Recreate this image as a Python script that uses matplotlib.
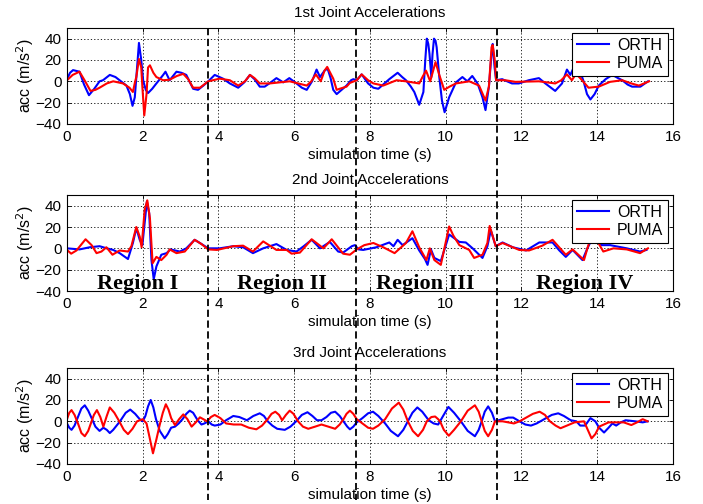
import numpy as np
import matplotlib
matplotlib.use('Agg')
import matplotlib.pyplot as plt
from matplotlib.lines import Line2D
from matplotlib import transforms

plt.rcParams['font.family'] = ['Liberation Sans', 'DejaVu Sans']

# ---- data (time s, acceleration m/s^2) ----
t1_orth = [0.00, 0.08, 0.16, 0.33, 0.45, 0.58, 0.72, 0.86, 0.95, 1.13, 1.28, 1.39, 1.57, 1.66, 1.73, 1.79,
           1.85, 1.90, 1.96, 2.01, 2.08, 2.14, 2.25, 2.36, 2.54, 2.60, 2.71, 2.80, 2.89, 3.02, 3.15, 3.33,
           3.46, 3.60, 3.73, 3.90, 4.12, 4.30, 4.52, 4.68, 4.83, 4.95, 5.09, 5.22, 5.38, 5.53, 5.71, 5.87,
           6.06, 6.20, 6.33, 6.47, 6.59, 6.68, 6.80, 6.88, 6.96, 7.03, 7.12, 7.25, 7.38, 7.50, 7.56, 7.65,
           7.78, 7.95, 8.09, 8.22, 8.38, 8.51, 8.62, 8.73, 8.85, 8.95, 9.08, 9.17, 9.30, 9.41, 9.46, 9.50,
           9.54, 9.57, 9.62, 9.65, 9.69, 9.73, 9.76, 9.83, 9.90, 9.97, 10.09, 10.27, 10.44, 10.57, 10.70,
           10.84, 10.97, 11.05, 11.14, 11.21, 11.24, 11.29, 11.33, 11.49, 11.75, 11.93, 12.19, 12.46, 12.63,
           12.89, 13.07, 13.20, 13.29, 13.38, 13.46, 13.54, 13.64, 13.73, 13.82, 13.93, 14.04, 14.22, 14.40,
           14.55, 14.66, 14.80, 14.92, 15.14, 15.34]
a1_orth = [2, 8, 10.5, 9, -3, -13, -7, 0, 1, 6, 4, 1, -4, -12, -23, -15,
           13, 36, 20, 1, -8, -11, -7, -2, 6, 9, 1, 5, 9, 8, 6, -7,
           -8, -4, 0, 6, 2.5, -2, -6, -1, 6, 2, -5, -5, -1, 3, -1, 3,
           -2, -6, -8, 0, 11, 4, 10, 12, 3, -8, -12, -8, -4, 1, 2, 1,
           6.5, -2, -6, -7, -2, 2, 5, 8, 4, 1, -5, -10, -22, -10, 20, 40,
           35, 26, 4, 25, 40, 38, 32, 4, -18, -29, -15, -1, 4, 0, 5,
           -2, -15, -27, -5, 26, 35, 13, 1, 2, -2, -2, 1, 3, -2,
           -9, -2, 11, 6, 13, 20, 10, 0, -12, -17, -12, -4, 2, 6,
           3, 1, -3, -5, -5, 0]

t1_puma = [0.00, 0.15, 0.33, 0.48, 0.62, 0.75, 0.86, 1.05, 1.22, 1.48, 1.65, 1.74, 1.80, 1.83, 1.90, 1.96,
           1.99, 2.04, 2.10, 2.14, 2.19, 2.28, 2.36, 2.54, 2.71, 2.90, 3.07, 3.20, 3.33, 3.51, 3.73, 4.03,
           4.30, 4.52, 4.70, 4.83, 4.95, 5.09, 5.35, 5.88, 6.33, 6.45, 6.57, 6.70, 6.80, 6.87, 6.95, 7.03,
           7.12, 7.20, 7.38, 7.47, 7.65, 7.78, 7.95, 8.09, 8.35, 8.70, 8.95, 9.30, 9.40, 9.48, 9.59, 9.73,
           9.83, 9.96, 10.10, 10.27, 10.62, 10.88, 11.05, 11.14, 11.21, 11.24, 11.29, 11.33, 11.57, 11.84,
           12.46, 12.89, 13.05, 13.20, 13.33, 13.44, 13.55, 13.77, 14.04, 14.34, 14.66, 14.90, 15.10, 15.37]
a1_puma = [1, 6, 9, 0, -9, -8, -6, -2, 0, -2, -6, -10, 0, 4, 21, 13,
           -5, -32, -12, 13, 15, 8, 4, 1, 1.5, 5, 7, 2, -6, -6, 0, 2.5,
           1, -4, 0, 6, 3, -2, -2, 0, -4, 0, 6.5, 0, 10, 13.5, 8, 2.5,
           -8, -7, -5, -1.5, 1, 6.5, 1, -2, -4, 1, 0, -2, 5, 10, 0, 18,
           6, -8, -5, -2, 0, -4, -18, -5, 32, 34, 21, 1, 1, -0.5,
           0, -2, 1, 6.5, 1, 7, 3, -6, -5, -0.5, 1, -2, -4, 0]

t2_orth = [0.00, 0.33, 0.60, 0.86, 1.05, 1.22, 1.39, 1.61, 1.74, 1.83, 1.92, 1.99, 2.06, 2.11, 2.17, 2.23,
           2.29, 2.36, 2.49, 2.63, 2.73, 2.98, 3.15, 3.37, 3.51, 3.73, 4.03, 4.39, 4.65, 4.91, 5.18, 5.53,
           5.80, 6.06, 6.25, 6.46, 6.68, 6.94, 7.16, 7.29, 7.52, 7.60, 7.70, 7.82, 8.17, 8.51, 8.62, 8.73,
           8.86, 9.12, 9.30, 9.45, 9.52, 9.61, 9.70, 9.87, 10.09, 10.36, 10.53, 10.71, 10.97, 11.10, 11.19,
           11.32, 11.50, 11.77, 12.12, 12.47, 12.82, 13.00, 13.17, 13.35, 13.61, 13.74, 13.85, 13.95, 14.12,
           14.34, 14.78, 15.13, 15.30]
a2_orth = [0, -1, 1, 2, 0, -1.5, -4.5, -10, 5, 19, 8, 3, 27, 44, 33, -11,
           -29, -17, -6, -4.5, -1, -3, 0, 8, 5, 0, 0, 2, 1, -4.5, 0, 4,
           -1.5, -3, 2, 8, 0, 6, -3, -4, 2, 3, -1, -1.5, 1, 5.5, 2, 8,
           3, 9.5, -2, -10, -15.5, -1, -9, -12, 13, 6, 5.5, 0, -9, 2, 17,
           2, 5.5, 1, -2, 5.5, 5.5, -2, -8, -1.5, -11, 0, 8, 10, 3,
           3, 0, -3, -1.5]

t2_puma = [0.00, 0.11, 0.25, 0.49, 0.65, 0.78, 0.91, 1.04, 1.20, 1.39, 1.61, 1.70, 1.83, 1.92, 1.97, 2.05,
           2.12, 2.19, 2.26, 2.36, 2.49, 2.63, 2.71, 2.89, 3.11, 3.37, 3.55, 3.73, 3.96, 4.39, 4.65, 4.91,
           5.18, 5.53, 5.80, 5.93, 6.15, 6.46, 6.77, 6.99, 7.29, 7.47, 7.65, 7.85, 8.09, 8.35, 8.65, 8.95,
           9.12, 9.30, 9.49, 9.58, 9.70, 9.87, 10.09, 10.20, 10.36, 10.62, 10.75, 10.97, 11.10, 11.16, 11.32,
           11.50, 11.94, 12.20, 12.55, 12.82, 13.17, 13.35, 13.65, 13.74, 13.85, 13.95, 14.16, 14.43, 14.78,
           15.13, 15.34]
a2_puma = [-1.5, -5, -2, 8.5, 3, -4.5, -3, 1, -6, -2, -3, 2, 20, 11, 1, 36,
           45, 28, -14, -8, -11, -6, -1, -4.5, -3, 8, 4, -1, -1.5, 2, 2.5, -3,
           6.5, -1.5, -1.5, -5, -4, 8.5, 0, 8.5, -5, -6, -1, 3, 5, 1, -4.5, 5,
           16, 1, -11, 0, -11, -15.5, 20.5, 12, 3, -1.5, -9, -6, 5, 21, 2,
           5, -1.5, -2, 2.5, 8, -6, -1, -11, 0, 12, 10, -3, 0, -1,
           -4.5, 0]

t3_orth = [0.00, 0.06, 0.12, 0.20, 0.30, 0.38, 0.47, 0.56, 0.65, 0.75, 0.86, 0.96, 1.05, 1.13, 1.22, 1.40,
           1.55, 1.67, 1.80, 1.92, 2.00, 2.07, 2.14, 2.21, 2.28, 2.35, 2.45, 2.58, 2.66, 2.75, 2.85, 2.95,
           3.05, 3.15, 3.24, 3.33, 3.45, 3.55, 3.63, 3.73, 3.82, 3.90, 4.05, 4.20, 4.39, 4.55, 4.75, 4.92,
           5.09, 5.20, 5.30, 5.42, 5.55, 5.75, 5.90, 6.05, 6.20, 6.35, 6.48, 6.60, 6.72, 6.85, 6.97, 7.08,
           7.20, 7.30, 7.40, 7.47, 7.56, 7.65, 7.80, 7.95, 8.08, 8.22, 8.40, 8.55, 8.74, 8.88, 9.00, 9.12,
           9.25, 9.38, 9.55, 9.68, 9.80, 9.93, 10.07, 10.22, 10.40, 10.58, 10.77, 10.87, 10.95, 11.03, 11.12,
           11.22, 11.30, 11.40, 11.50, 11.65, 11.78, 11.95, 12.10, 12.25, 12.40, 12.60, 12.80, 12.97, 13.12,
           13.30, 13.45, 13.55, 13.68, 13.82, 13.95, 14.05, 14.18, 14.30, 14.40, 14.50, 14.62, 14.75, 15.00,
           15.20, 15.33]
a3_orth = [-2, -6, -8, -4, 5, 12, 15, 10, 3, -5, -9, -6, -8, -11, -8, 0,
           8, 11, 7, 2, 0, 5, 14, 20, 13, 2, -9, -16, -12, -6, -5, -2,
           2, 7, 10, 8, 1, -3, -2, 0, -3, -4, -3, 1, 5, 4, 1, 5,
           7.5, 5, 0, -4, -7, -8, -5, 0, 6, 8.5, 5, 1, 1, 4, 8, 9,
           5, 0, -5, -7.5, -5, -1, 3, 7.5, 9, 5, -2, -9, -14, -8, 0, 8,
           13, 9, 1, -2, -3, 5, 13.5, 8, 0, -9, -14, -8, 0, 9, 14,
           8, 0, 1, 2, 3.5, 3.5, 0, -3, -4, -2, 2, 6, 7.5, 5,
           1, 0, -4, -4, 3, 0, -6, -10.5, -6, -2, -4, -1, 1, 0,
           -1, 0]

t3_puma = [0.00, 0.06, 0.12, 0.20, 0.30, 0.38, 0.47, 0.56, 0.63, 0.71, 0.79, 0.88, 0.96, 1.05, 1.13, 1.25,
           1.38, 1.50, 1.61, 1.73, 1.85, 2.00, 2.10, 2.18, 2.27, 2.36, 2.45, 2.53, 2.61, 2.68, 2.75, 2.85,
           2.96, 3.07, 3.18, 3.29, 3.40, 3.51, 3.60, 3.70, 3.80, 3.90, 4.05, 4.20, 4.40, 4.60, 4.80, 5.00,
           5.15, 5.30, 5.40, 5.50, 5.60, 5.68, 5.78, 5.88, 5.98, 6.10, 6.23, 6.37, 6.55, 6.72, 6.90, 7.08,
           7.20, 7.30, 7.38, 7.47, 7.56, 7.65, 7.80, 7.95, 8.08, 8.22, 8.40, 8.58, 8.76, 8.88, 9.00, 9.13,
           9.27, 9.40, 9.50, 9.62, 9.72, 9.80, 9.85, 9.95, 10.08, 10.22, 10.40, 10.58, 10.77, 10.87, 10.95,
           11.03, 11.12, 11.22, 11.30, 11.50, 11.65, 11.80, 11.95, 12.10, 12.30, 12.48, 12.62, 12.75, 12.90,
           13.03, 13.20, 13.40, 13.65, 13.75, 13.85, 13.95, 14.05, 14.30, 14.70, 14.90, 15.05, 15.20, 15.33]
a3_puma = [2, 8, 10.5, 6, -3, -11, -14, -9, -2, 6, 10.5, 4, -5, 5, 13, 8,
           0, -8, -12, -7, 0, 2, -2, -15, -30, -17, -3, 8, 16, 11, 3, -3.5,
           2, 6.5, 2, -5, -1, 3.75, 2, 0, 4, 6, 3, -2, -3, -3, -6, -7.5,
           -4, 2, 7, 9, 6, 1, 6, 10, 7, 0, -5, -7, -5, -3, -5, -7,
           -3, 2, 7, 10, 7, 2, -2, -6, -7, -4, 2, 12, 17.5, 11, 0, -9,
           -14, -8, 0, 4, 4.5, 2, 0, -8, -13.5, -8, 0, 10, 15, 9, 0,
           -9, -14, -8, 0, 0, -1, -2, 0, 3, 7, 9, 6, 0, -4,
           -6.5, -4, -1, 0, -8, -16, -12, -5, -1, -1, -3.5, -1, 2, 0]

titles = ['1st Joint Accelerations', '2nd Joint Accelerations', '3rd Joint Accelerations']
series = [(t1_orth, a1_orth, t1_puma, a1_puma),
          (t2_orth, a2_orth, t2_puma, a2_puma),
          (t3_orth, a3_orth, t3_puma, a3_puma)]

region_names = ['Region I', 'Region II', 'Region III', 'Region IV']
region_x = [1.87, 5.67, 9.45, 13.68]
boundaries = [3.71, 7.62, 11.36]

fig = plt.figure(figsize=(7.03, 5.04), dpi=100)
bottoms = [0.754, 0.4226, 0.0794]
axes = []
for i, (title, (to, ao, tp, ap)) in enumerate(zip(titles, series)):
    ax = fig.add_axes([0.0953, bottoms[i], 0.862, 0.1905])
    ax.plot(to, ao, color='#0000ff', lw=1.5, label='ORTH')
    ax.plot(tp, ap, color='#ff0000', lw=1.5, label='PUMA')
    ax.set_xlim(0, 16)
    ax.set_ylim(-40, 50)
    ax.set_xticks(np.arange(0, 17, 2))
    ax.set_yticks([-40, -20, 0, 20, 40])
    ax.grid(True, color='k', linestyle=(0, (1.5, 2.5)), linewidth=0.6)
    ax.tick_params(direction='in', top=True, right=True, labelsize=11, length=3, width=0.6, pad=4)
    for sp in ax.spines.values():
        sp.set_linewidth(0.8)
    ax.set_title(title, fontsize=11, pad=8)
    ax.set_xlabel('simulation time (s)', fontsize=11, labelpad=3)
    ax.set_ylabel('acc (m/s$^2$)', fontsize=11.5, labelpad=0)
    leg = ax.legend(loc='upper right', fontsize=11.5, fancybox=False, framealpha=1,
                    edgecolor='k', borderaxespad=0.3, handlelength=2.0,
                    labelspacing=0.2, borderpad=0.3, handletextpad=0.5)
    leg.get_frame().set_linewidth(0.8)
    axes.append(ax)

for name, x in zip(region_names, region_x):
    axes[1].text(x, -33, name, ha='center', va='center', fontsize=16,
                 fontweight='bold', family='Liberation Serif', zorder=5)

# region boundaries run through all three panels
trans = transforms.blended_transform_factory(axes[0].transData, fig.transFigure)
for b in boundaries:
    fig.add_artist(Line2D([b, b], [0.944, 0.008], transform=trans, color='k',
                          lw=1.3, linestyle=(0, (4, 2))))

fig.savefig('out.png', dpi=100)
